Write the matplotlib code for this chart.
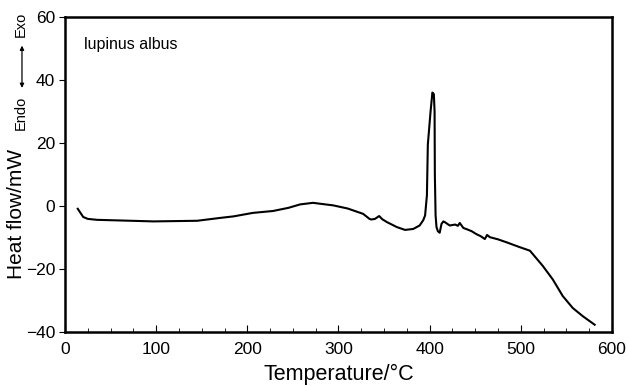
import numpy as np
import matplotlib
matplotlib.use('Agg')
import matplotlib.pyplot as plt
from matplotlib.patches import FancyArrowPatch

plt.rcParams['font.family'] = ['Liberation Sans', 'DejaVu Sans']

# DSC curve
temp = [14, 17, 20, 25, 35, 60, 97, 145, 170, 185, 206, 228, 245, 258, 272, 280,
        294, 310, 323, 327, 334, 336, 340, 344.6, 348, 353, 364, 373, 382, 389,
        393, 395, 397, 398, 401, 403, 404.6, 405.4, 405.7, 406.5, 407.5, 409, 411,
        413, 415, 417, 422, 428, 431, 433, 437, 440, 446, 451, 456, 460.5, 463,
        466, 475, 484, 499, 510, 524, 535, 546, 557, 568, 581]
heat = [-0.9, -2.2, -3.5, -4.1, -4.4, -4.6, -4.9, -4.7, -3.8, -3.3, -2.2, -1.6,
        -0.6, 0.5, 1.0, 0.7, 0.2, -0.8, -2.1, -2.5, -4.1, -4.3, -4.1, -3.2, -4.2,
        -5.1, -6.7, -7.6, -7.3, -6.2, -4.5, -3.0, 3.4, 19.5, 30.0, 36.0, 35.5, 30.0,
        10.0, -3.0, -6.7, -8.0, -8.5, -5.7, -4.9, -5.2, -6.2, -5.9, -6.3, -5.4, -7.0,
        -7.3, -8.0, -8.9, -9.6, -10.5, -9.2, -9.9, -10.6, -11.5, -13.1, -14.2,
        -19.0, -23.3, -28.6, -32.4, -35.0, -37.7]

x_ticks = [0, 100, 200, 300, 400, 500, 600]
y_ticks = [-40, -20, 0, 20, 40, 60]

fig = plt.figure(figsize=(6.28, 3.86), dpi=100)
ax = fig.add_axes([0.1035, 0.140, 0.871, 0.816])

ax.plot(temp, heat, color='black', lw=1.5)

ax.set_xlim(0, 600)
ax.set_ylim(-40, 60)
ax.set_xticks(x_ticks)
ax.set_yticks(y_ticks)
ax.set_xticks(np.arange(0, 601, 25), minor=True)
ax.tick_params(axis='x', which='both', direction='in', labelsize=12.5, pad=7)
ax.tick_params(axis='x', which='major', length=5)
ax.tick_params(axis='x', which='minor', length=3)
ax.tick_params(axis='y', direction='out', length=4, labelsize=12.5, pad=3)
for s in ax.spines.values():
    s.set_linewidth(1.8)

ax.set_xlabel('Temperature/°C', fontsize=15.5, labelpad=5)
ax.set_ylabel('Heat flow/mW', fontsize=15)
ax.yaxis.set_label_coords(-0.071, 0.375)

ax.text(0.035, 0.912, 'lupinus albus', transform=ax.transAxes, fontsize=11.5,
        va='center')

# Endo / Exo marker to the left of the y axis
fig.text(0.033, 0.707, 'Endo', rotation=90, fontsize=10.5, ha='center', va='center')
fig.text(0.033, 0.938, 'Exo', rotation=90, fontsize=10.5, ha='center', va='center')
fig.add_artist(FancyArrowPatch(
    (0.035, 0.765), (0.035, 0.889), transform=fig.transFigure,
    arrowstyle='<|-|>', mutation_scale=6, lw=0.9, color='black'))

fig.savefig('out.png', dpi=100)
